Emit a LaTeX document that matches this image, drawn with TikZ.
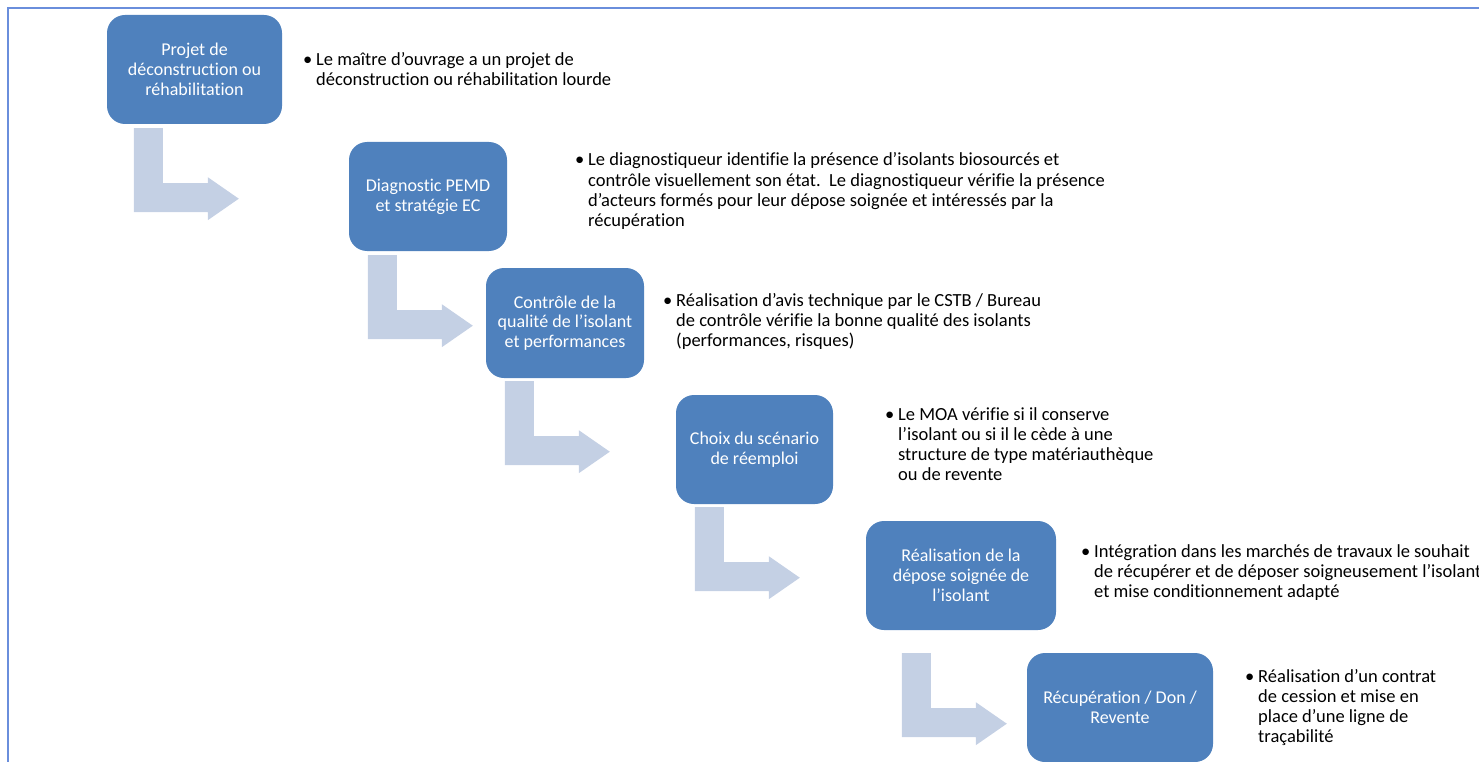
\documentclass[tikz,border=0pt]{standalone}
\usepackage{fontspec}
\setmainfont{Carlito}[Ligatures={NoCommon}]
\usetikzlibrary{calc}
\definecolor{boxblue}{RGB}{79,129,189}
\definecolor{arrowfill}{RGB}{196,208,228}
\definecolor{framecol}{RGB}{106,142,220}
\begin{document}
\begin{tikzpicture}[x=1pt,y=-1pt,
  stepbox/.style={rectangle, rounded corners=18pt, fill=boxblue, text=white,
    align=center, inner sep=4pt, font=\fontsize{18}{19.8}\selectfont},
  desc/.style={anchor=base west, inner sep=0pt, text=black,
    font=\fontsize{18.5}{20.2}\selectfont},
  bentfill/.style={fill=arrowfill}]
% page area and outer frame
\useasboundingbox (0,0) rectangle (1479,762);
\clip (0,0) rectangle (1479,762);
\draw[framecol, line width=2.5pt] (8,770) -- (8,8) -- (1490,8);

% process steps
\node[stepbox, minimum width=175pt, minimum height=109pt] (b1) at (194.5,69.5)
  {Projet de\\déconstruction ou\\réhabilitation};
\node[stepbox, minimum width=158pt, minimum height=109pt] (b2) at (428,196.5)
  {Diagnostic PEMD\\et stratégie EC};
\node[stepbox, minimum width=158pt, minimum height=110pt] (b3) at (565,323)
  {Contrôle de la\\qualité de l’isolant\\et performances};
\node[stepbox, minimum width=157pt, minimum height=109pt] (b4) at (754.5,449.5)
  {Choix du scénario\\de réemploi};
\node[stepbox, minimum width=190pt, minimum height=109pt] (b5) at (961,575.5)
  {Réalisation de la\\dépose soignée de\\l’isolant};
\node[stepbox, minimum width=186pt, minimum height=109pt] (b6) at (1120,707.5)
  {Récupération / Don /\\Revente};

% bent arrows hanging under each step
\newcommand\bentarrow[1]{%
  \fill[bentfill, shift={#1}] (0,0) -- (29,0) -- (29,55) -- (74,55) -- (74,49)
    -- (105,70.5) -- (74,92) -- (74,84) -- (0,84) -- cycle;}
\bentarrow{($(b1.south west)+(27,4)$)}
\bentarrow{($(b2.south west)+(19,4)$)}
\bentarrow{($(b3.south west)+(19,3)$)}
\bentarrow{($(b4.south west)+(19,3)$)}
\bentarrow{($(b5.south west)+(36,23)$)}

% bulleted descriptions
\newcommand\bul{\textbullet}
\node[desc] (t1) at (303,65.5) {\begin{tabular}[t]{@{}p{13pt}@{}l@{}}
  \bul & Le maître d’ouvrage a un projet de\\
       & déconstruction ou réhabilitation lourde\end{tabular}};
\node[desc] (t2) at (575,166) {\begin{tabular}[t]{@{}p{13pt}@{}l@{}}
  \bul & Le diagnostiqueur identifie la présence d’isolants biosourcés et\\
       & contrôle visuellement son état.\ \ Le diagnostiqueur vérifie la présence\\
       & d’acteurs formés pour leur dépose soignée et intéressés par la\\
       & récupération\end{tabular}};
\node[desc] (t3) at (663,306) {\begin{tabular}[t]{@{}p{13pt}@{}l@{}}
  \bul & Réalisation d’avis technique par le CSTB / Bureau\\
       & de contrôle vérifie la bonne qualité des isolants\\
       & (performances, risques)\end{tabular}};
\node[desc] (t4) at (885,420) {\begin{tabular}[t]{@{}p{13pt}@{}l@{}}
  \bul & Le MOA vérifie si il conserve\\
       & l’isolant ou si il le cède à une\\
       & structure de type matériauthèque\\
       & ou de revente\end{tabular}};
\node[desc] (t5) at (1081,557) {\begin{tabular}[t]{@{}p{13pt}@{}l@{}}
  \bul & Intégration dans les marchés de travaux le souhait\\
       & de récupérer et de déposer soigneusement l’isolant\\
       & et mise conditionnement adapté\end{tabular}};
\node[desc] (t6) at (1245,682) {\begin{tabular}[t]{@{}p{13pt}@{}l@{}}
  \bul & Réalisation d’un contrat\\
       & de cession et mise en\\
       & place d’une ligne de\\
       & traçabilité\end{tabular}};
\end{tikzpicture}
\end{document}
